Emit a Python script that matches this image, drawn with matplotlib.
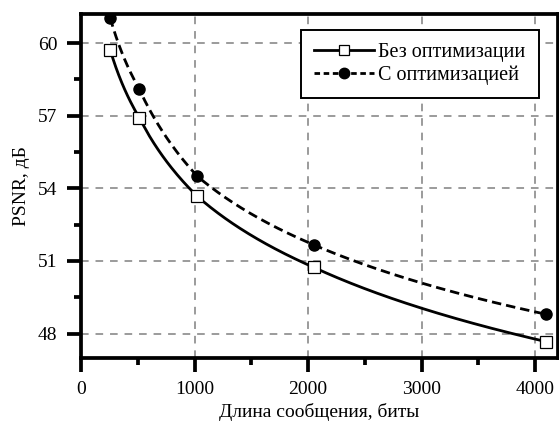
import numpy as np
import matplotlib.pyplot as plt

plt.rcParams["font.family"] = ["Liberation Serif", "DejaVu Serif"]

# Data
msg_len = [256, 512, 1024, 2048, 4096]
psnr_plain = [59.73, 56.92, 53.67, 50.74, 47.67]
psnr_opt = [61.05, 58.10, 54.50, 51.67, 48.80]
label_plain = "Без оптимизации"
label_opt = "С оптимизацией"

fig = plt.figure(figsize=(5.59, 4.23), dpi=100)
ax = fig.add_axes([0.145, 0.154, 0.853, 0.813])

# smooth curves: interpolate in log2 space between the measured points
xs = np.linspace(msg_len[0], msg_len[-1], 300)
lx = np.log2(msg_len)
ax.plot(xs, np.interp(np.log2(xs), lx, psnr_plain), color="black", lw=2.0, zorder=3)
ax.plot(xs, np.interp(np.log2(xs), lx, psnr_opt), color="black", lw=2.0,
        ls=(0, (3.4, 1.8)), zorder=3)
ax.plot(msg_len, psnr_plain, ls="none", marker="s", ms=8, mfc="white",
        mec="black", mew=0.9, zorder=4)
ax.plot(msg_len, psnr_opt, ls="none", marker="o", ms=8, mfc="black",
        mec="black", zorder=4)

# legend proxies
ax.plot([], [], color="black", lw=2.0, marker="s", ms=7.5, mfc="white",
        mec="black", mew=0.9, label=label_plain)
ax.plot([], [], color="black", lw=2.0, ls=(0, (2.0, 1.3)), marker="o", ms=7.5,
        mfc="black", label=label_opt)

ax.set_xlim(0, 4200)
ax.set_ylim(47, 61.2)
ax.set_xticks([0, 1000, 2000, 3000, 4000])
ax.set_xticks([500, 1500, 2500, 3500], minor=True)
ax.set_yticks([48, 51, 54, 57, 60])
ax.set_yticks([49.5, 52.5, 55.5, 58.5], minor=True)

ax.grid(True, which="major", color="#808080", ls=(0, (5, 4.5)), lw=1.1)
for s in ax.spines.values():
    s.set_linewidth(2.7)
ax.tick_params(which="major", direction="out", length=10, width=2.7,
               labelsize=14, pad=7)
ax.tick_params(which="minor", direction="out", length=5, width=2.7)

ax.set_xlabel("Длина сообщения, биты", fontsize=14, labelpad=3)
ax.set_ylabel("PSNR, дБ", fontsize=14, labelpad=6)

leg = ax.legend(loc="upper left", bbox_to_anchor=(0.461, 0.953), fontsize=14.5,
                frameon=True, fancybox=False, edgecolor="black",
                handlelength=3.0, handletextpad=0.2, borderpad=0.65,
                borderaxespad=0, labelspacing=0.15)
leg.get_frame().set_linewidth(1.4)
leg.get_frame().set_alpha(1)

fig.savefig("out.png", dpi=100)
